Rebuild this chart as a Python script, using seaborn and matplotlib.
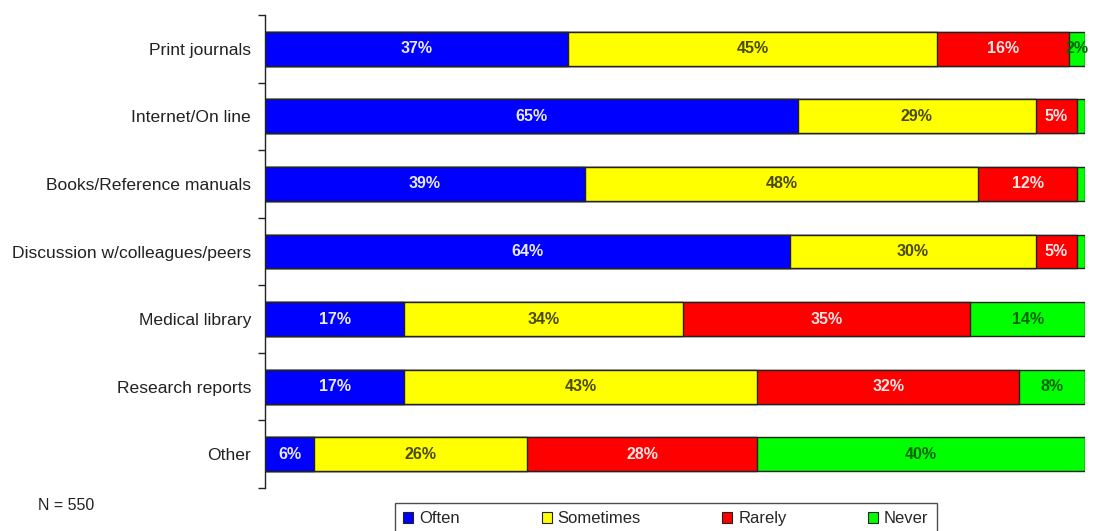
import numpy as np
import pandas as pd
import matplotlib
matplotlib.use("Agg")
import matplotlib.pyplot as plt
from matplotlib.patches import Patch
import seaborn as sns

categories = ["Print journals", "Internet/On line", "Books/Reference manuals",
              "Discussion w/colleagues/peers", "Medical library",
              "Research reports", "Other"]
often = [37, 65, 39, 64, 17, 17, 6]
sometimes = [45, 29, 48, 30, 34, 43, 26]
rarely = [16, 5, 12, 5, 35, 32, 28]
never = [2, 1, 1, 1, 14, 8, 40]
series_names = ["Often", "Sometimes", "Rarely", "Never"]
n_label = "N = 550"

colors = ["#0000FF", "#FFFF00", "#FF0000", "#00FF00"]
text_colors = ["#E8E8FF", "#4A4A00", "#FFE4E4", "#006400"]

sns.set_theme(style="white")
plt.rcParams['font.family'] = ['Liberation Sans', 'DejaVu Sans']

fig = plt.figure(figsize=(10.97, 5.31), dpi=100)
ax = fig.add_axes([265 / 1097, 1 - 488 / 531, (1085 - 265) / 1097, (488 - 15) / 531])

series = [often, sometimes, rarely, never]
df = pd.DataFrame({"category": categories})
cum = np.zeros(len(categories))
cums = []
for s in series:
    cum = cum + np.array(s, dtype=float)
    cums.append(cum.copy())

# draw cumulative bars from the largest down so that they stack visually
for i in range(len(series) - 1, -1, -1):
    df["value"] = cums[i]
    sns.barplot(data=df, y="category", x="value", orient="h", order=categories,
                color=colors[i], saturation=1, width=0.5,
                edgecolor="#222222", linewidth=1.0, ax=ax)

# labels
for i, s in enumerate(series):
    starts = cums[i] - np.array(s)
    for j, v in enumerate(s):
        if v < 2:
            continue
        ax.text(starts[j] + v / 2, j, f"{v}%", ha="center", va="center",
                fontsize=11.5, fontweight="bold", color=text_colors[i])

ax.set_xlim(0, 100)
ax.set_ylim(len(categories) - 0.5, -0.5)
ax.set_xlabel("")
ax.set_ylabel("")
ax.set_xticks([])
for sp in ["top", "right", "bottom"]:
    ax.spines[sp].set_visible(False)
ax.spines["left"].set_color("#222222")
ax.spines["left"].set_linewidth(1.0)
ax.set_yticks(range(len(categories)))
ax.set_yticklabels(categories, fontsize=12.6, color="#222222")
ax.set_yticks(np.arange(-0.5, len(categories), 1.0), minor=True)
ax.tick_params(axis="y", which="major", length=0, pad=10)
ax.tick_params(axis="y", which="minor", length=5, width=1.0, color="#222222", left=True)

fig.text(38 / 1097, 1 - 506 / 531, n_label, fontsize=11.5, color="#222222",
         ha="left", va="center")

handles = [Patch(facecolor=c, edgecolor="#222222", linewidth=0.8) for c in colors]
leg = fig.legend(handles, series_names, loc="upper center",
                 bbox_to_anchor=(666 / 1097, 1 - 503 / 531), ncol=4,
                 fontsize=12, frameon=True, fancybox=False,
                 handlelength=0.6, handleheight=0.6, handletextpad=0.35,
                 columnspacing=4.9, borderpad=0.5, borderaxespad=0)
leg.get_frame().set_edgecolor("#222222")
leg.get_frame().set_linewidth(1.0)

fig.savefig("out.png", dpi=100, facecolor="white")
